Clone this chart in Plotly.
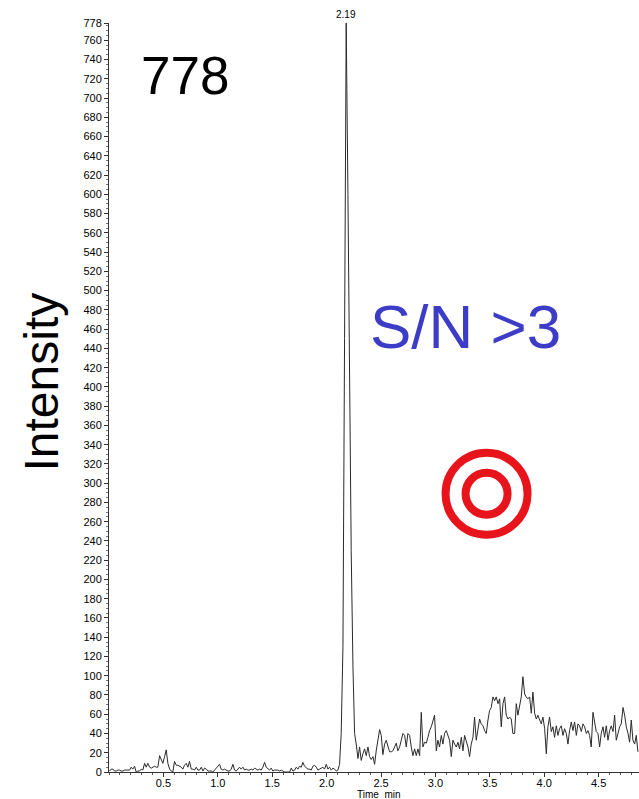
import plotly.graph_objects as go

time_min = [
 0.005,0.020,0.036,0.051,0.066,0.082,0.097,0.112,0.128,0.143,
 0.158,0.174,0.189,0.204,0.219,0.235,0.250,0.265,0.281,0.296,
 0.311,0.327,0.342,0.357,0.373,0.388,0.403,0.419,0.434,0.449,
 0.465,0.480,0.495,0.511,0.526,0.541,0.557,0.572,0.587,0.602,
 0.618,0.633,0.648,0.664,0.679,0.694,0.710,0.725,0.740,0.756,
 0.771,0.786,0.802,0.817,0.832,0.848,0.863,0.878,0.894,0.909,
 0.924,0.940,0.955,0.970,0.985,1.001,1.016,1.031,1.047,1.062,
 1.077,1.093,1.108,1.123,1.139,1.154,1.169,1.185,1.200,1.215,
 1.231,1.246,1.261,1.277,1.292,1.307,1.323,1.338,1.353,1.368,
 1.384,1.399,1.414,1.430,1.445,1.460,1.476,1.491,1.506,1.522,
 1.537,1.552,1.568,1.583,1.598,1.614,1.629,1.644,1.660,1.675,
 1.690,1.706,1.721,1.736,1.751,1.767,1.782,1.797,1.813,1.828,
 1.843,1.859,1.874,1.889,1.905,1.920,1.935,1.951,1.966,1.981,
 1.997,2.012,2.027,2.043,2.058,2.073,2.089,2.104,2.119,2.134,
 2.150,2.165,2.180,2.196,2.211,2.226,2.242,2.257,2.272,2.288,
 2.303,2.318,2.334,2.349,2.364,2.380,2.395,2.410,2.426,2.441,
 2.456,2.472,2.487,2.502,2.517,2.533,2.548,2.563,2.579,2.594,
 2.609,2.625,2.640,2.655,2.671,2.686,2.701,2.717,2.732,2.747,
 2.763,2.778,2.793,2.809,2.824,2.839,2.855,2.870,2.885,2.900,
 2.916,2.931,2.946,2.962,2.977,2.992,3.008,3.023,3.038,3.054,
 3.069,3.084,3.100,3.115,3.130,3.146,3.161,3.176,3.192,3.207,
 3.222,3.238,3.253,3.268,3.283,3.299,3.314,3.329,3.345,3.360,
 3.375,3.391,3.406,3.421,3.437,3.452,3.467,3.483,3.498,3.513,
 3.529,3.544,3.559,3.575,3.590,3.605,3.621,3.636,3.651,3.666,
 3.682,3.697,3.712,3.728,3.743,3.758,3.774,3.789,3.804,3.820,
 3.835,3.850,3.866,3.881,3.896,3.912,3.927,3.942,3.958,3.973,
 3.988,4.004,4.019,4.034,4.049,4.065,4.080,4.095,4.111,4.126,
 4.141,4.157,4.172,4.187,4.203,4.218,4.233,4.249,4.264,4.279,
 4.295,4.310,4.325,4.341,4.356,4.371,4.387,4.402,4.417,4.432,
 4.448,4.463,4.478,4.494,4.509,4.524,4.540,4.555,4.570,4.586,
 4.601,4.616,4.632,4.647,4.662,4.678,4.693,4.708,4.724,4.739,
 4.754,4.770,4.785,4.800,4.815,4.831,4.846,4.861,
]

intensity = [
 1,3,3,1,1,2,2,1,1,2,
 2,2,2,5,3,6,0,1,1,3,
 2,9,5,9,5,4,5,6,5,5,
 17,12,9,16,23,9,3,1,0,11,
 7,7,6,5,3,7,9,5,11,3,
 3,2,5,2,2,5,1,4,3,1,
 1,1,0,2,3,5,8,3,2,3,
 2,1,1,3,8,2,1,3,5,3,
 5,2,3,2,2,3,2,4,3,2,
 3,2,5,10,5,3,2,4,1,2,
 2,2,1,2,1,0,0,0,0,4,
 1,2,5,3,6,5,10,6,4,3,
 3,2,6,7,5,2,3,4,5,3,
 8,3,5,2,4,3,1,2,8,40,
 130,450,778,600,400,230,110,40,29,14,
 26,12,19,24,17,26,16,13,16,8,
 22,33,44,38,18,29,33,27,21,21,
 22,26,30,22,26,33,40,38,26,40,
 38,26,17,24,17,24,17,62,26,31,
 30,36,43,47,54,59,22,33,26,38,
 29,40,43,38,33,16,33,29,26,31,
 24,36,22,38,33,26,16,29,36,57,
 33,47,55,50,48,43,40,54,64,67,
 78,74,78,71,76,47,71,78,59,55,
 57,55,40,40,71,59,71,78,99,81,
 78,76,78,61,83,61,55,59,54,50,
 57,45,19,47,57,42,47,36,48,38,
 45,48,38,45,40,29,43,52,43,52,
 38,50,48,42,50,47,40,43,38,26,
 62,50,42,40,26,40,47,36,48,33,
 43,48,42,59,33,40,47,50,67,59,
 47,40,31,54,33,29,38,21,
]

y_ticks = list(range(0, 761, 20)) + [778]
y_ticktext = [str(v) for v in y_ticks]
x_ticks = [0.5, 1.0, 1.5, 2.0, 2.5, 3.0, 3.5, 4.0, 4.5]
x_ticktext = ["0.5", "1.0", "1.5", "2.0", "2.5", "3.0", "3.5", "4.0", "4.5"]

peak_time = 2.180
peak_value = 778
peak_label = "2.19"
max_label = "778"
sn_label = "S/N >3"
marker_level = 40

font_family = "Liberation Sans, Arial, sans-serif"

fig = go.Figure()
fig.add_trace(go.Scatter(
    x=time_min, y=intensity, mode="lines",
    line=dict(color="#2a2a2a", width=1),
    showlegend=False, hoverinfo="skip",
))
fig.add_trace(go.Scatter(
    x=[-0.03], y=[marker_level], mode="markers",
    marker=dict(symbol="triangle-right", size=7, color="black"),
    cliponaxis=False, showlegend=False, hoverinfo="skip",
))

fig.update_layout(
    width=639, height=799,
    margin=dict(l=109, r=0, t=23, b=27),
    paper_bgcolor="white", plot_bgcolor="white",
    font=dict(family=font_family, color="black", size=11),
    xaxis=dict(
        range=[0, 4.871], showgrid=False, zeroline=False,
        showline=True, linecolor="#333333", linewidth=1,
        ticks="outside", ticklen=4, tickcolor="#333333",
        tickvals=x_ticks, ticktext=x_ticktext,
        tickfont=dict(size=11, family=font_family),
        ticklabelstandoff=-3,
        minor=dict(dtick=0.1, ticks="outside", ticklen=2, tickcolor="#555555"),
    ),
    yaxis=dict(
        range=[0, 778], showgrid=False, zeroline=False,
        showline=True, linecolor="#333333", linewidth=1,
        ticks="outside", ticklen=4, tickcolor="#333333",
        tickvals=y_ticks, ticktext=y_ticktext,
        tickfont=dict(size=11, family=font_family),
        minor=dict(dtick=5, ticks="outside", ticklen=2, tickcolor="#777777"),
    ),
    annotations=[
        dict(x=peak_time, y=peak_value, xref="x", yref="y", text=peak_label,
             showarrow=False, yanchor="bottom", yshift=1,
             font=dict(size=10, family=font_family)),
        dict(x=2.48, y=0, xref="x", yref="paper", text="Time  min",
             showarrow=False, yanchor="top", yshift=-15,
             font=dict(size=10, family=font_family)),
        dict(x=0, y=0.52, xref="paper", yref="paper", xshift=-67, xanchor="center",
             text="Intensity", showarrow=False, textangle=-90,
             font=dict(size=48, family=font_family)),
        dict(x=0.7, y=723, xref="x", yref="y", text=max_label,
             showarrow=False, font=dict(size=53, family=font_family)),
        dict(x=3.28, y=463, xref="x", yref="y", text=sn_label,
             showarrow=False, font=dict(size=62, family=font_family, color="#3c3cc6")),
    ],
    shapes=[
        dict(type="circle", xref="x", yref="y", xsizemode="pixel", ysizemode="pixel",
             xanchor=3.47, yanchor=289, x0=-41, x1=41, y0=-41, y1=41,
             line=dict(color="#e8141c", width=8)),
        dict(type="circle", xref="x", yref="y", xsizemode="pixel", ysizemode="pixel",
             xanchor=3.47, yanchor=289, x0=-21, x1=21, y0=-21, y1=21,
             line=dict(color="#e8141c", width=8)),
    ],
)

fig.write_html("out.html")
